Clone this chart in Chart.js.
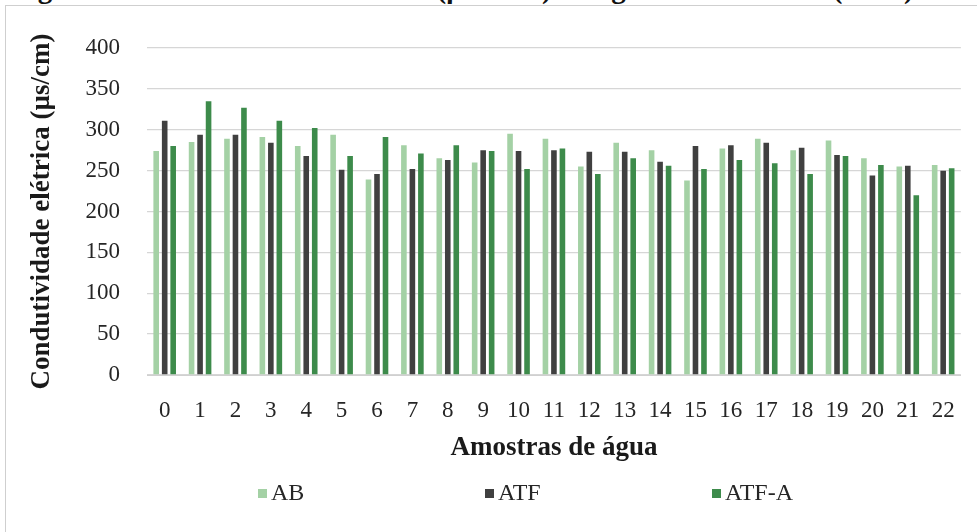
<!DOCTYPE html>
<html>
<head>
<meta charset="utf-8">
<script src="https://cdn.jsdelivr.net/npm/chart.js@4.4.1/dist/chart.umd.min.js"></script>
<style>
  html, body { margin: 0; padding: 0; background: #fff; }
  #wrap { position: relative; width: 977px; height: 532px; overflow: hidden; background: #fff; }
  #frame { position: absolute; left: 5px; top: 5px; width: 1100px; height: 700px; border: 1px solid #cfcfcf; }
  #caption { position: absolute; left: 12px; top: -26px; white-space: nowrap;
             font: bold 29px/29px "Liberation Serif", "Times New Roman", serif; color: #111; }
  #chart { position: absolute; left: 0; top: 0; }
  #legend { position: absolute; left: 258px; top: 477px; display: flex; }
  .item { width: 227px; display: flex; align-items: center;
          font: 24px/30px "Liberation Serif", "Times New Roman", serif; color: #262626; }
  .swatch { width: 9px; height: 9px; margin-right: 4px; margin-top: 3px; }
</style>
</head>
<body>
<div id="wrap">
  <div id="frame"></div>
  <div id="caption">Figura 4 – Condutividade elétrica (µS cm⁻¹) da água das amostras (n=23)</div>
  <canvas id="chart" width="977" height="532"></canvas>
  <div id="legend"></div>
</div>
<script>
// Water samples 0–22
const categories = ['0','1','2','3','4','5','6','7','8','9','10','11','12','13','14','15','16','17','18','19','20','21','22'];

// Electrical conductivity (µs/cm) per sample
const seriesAB   = [274, 285, 289, 291, 280, 294, 239, 281, 265, 260, 295, 289, 255, 284, 275, 238, 277, 289, 275, 287, 265, 255, 257];
const seriesATF  = [311, 294, 294, 284, 268, 251, 246, 252, 263, 275, 274, 275, 273, 273, 261, 280, 281, 284, 278, 269, 244, 256, 250];
const seriesATFA = [280, 335, 327, 311, 302, 268, 291, 271, 281, 274, 252, 277, 246, 265, 256, 252, 263, 259, 246, 268, 257, 220, 253];

const seriesNames  = ['AB', 'ATF', 'ATF-A'];
const seriesColors = ['#a4d1a5', '#404040', '#3d8b4b'];

const yTicks = [0, 50, 100, 150, 200, 250, 300, 350, 400];

const serif = '"Liberation Serif", "Times New Roman", serif';
const values = [seriesAB, seriesATF, seriesATFA];

const datasets = seriesNames.map((name, i) => ({
  label: name,
  data: values[i],
  backgroundColor: seriesColors[i],
  borderWidth: 0,
  categoryPercentage: 0.72,
  barPercentage: 0.66
}));

new Chart(document.getElementById('chart'), {
  type: 'bar',
  data: { labels: categories, datasets },
  options: {
    responsive: false,
    animation: false,
    events: [],
    layout: { padding: { top: 48, right: 15, bottom: 68, left: 0 } },
    plugins: { legend: { display: false }, tooltip: { enabled: false } },
    scales: {
      x: {
        grid: { display: false, drawTicks: false },
        border: { display: true, color: '#d0d0d0', width: 1 },
        ticks: { color: '#262626', font: { family: serif, size: 23 }, padding: 22, maxRotation: 0, autoSkip: false },
        title: { display: true, text: 'Amostras de água', color: '#1a1a1a',
                 font: { family: serif, size: 27, weight: 'bold' }, padding: { top: 0, bottom: 0 } },
        afterFit: s => { s.height = 89; }
      },
      y: {
        min: yTicks[0],
        max: yTicks[yTicks.length - 1],
        afterBuildTicks: s => { s.ticks = yTicks.map(v => ({ value: v })); },
        grid: { color: '#d6d6d6', lineWidth: 1.3, drawTicks: false },
        border: { display: false },
        ticks: { color: '#262626', font: { family: serif, size: 23 }, padding: 27 },
        title: { display: true, text: 'Condutividade elétrica (µs/cm)', color: '#1a1a1a',
                 font: { family: serif, size: 27, weight: 'bold' }, padding: { top: 26, bottom: 0 } },
        afterFit: s => { s.width = 147; }
      }
    }
  }
});

// Legend row
const legend = document.getElementById('legend');
seriesNames.forEach((name, i) => {
  const item = document.createElement('div');
  item.className = 'item';
  const sw = document.createElement('span');
  sw.className = 'swatch';
  sw.style.background = seriesColors[i];
  const tx = document.createElement('span');
  tx.textContent = name;
  item.appendChild(sw);
  item.appendChild(tx);
  legend.appendChild(item);
});
</script>
</body>
</html>
